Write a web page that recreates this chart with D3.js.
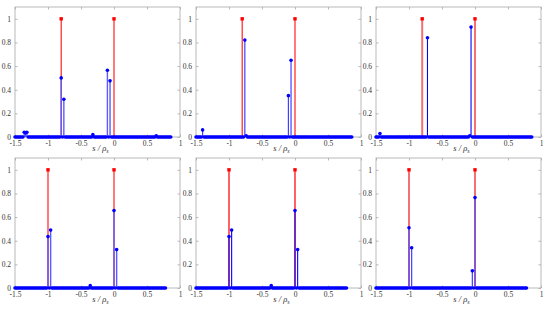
<!DOCTYPE html>
<html><head><meta charset="utf-8">
<script src="https://cdn.jsdelivr.net/npm/d3@7"></script>
<style>body{margin:0;background:#fff}svg{display:block}
.t{font-family:'Liberation Serif','Times New Roman',serif}</style>
</head><body>
<svg id="c" width="550" height="309"></svg>
<script>
// tick labels
const xTicks = [-1.5, -1, -0.5, 0, 0.5, 1];
const yTicks = [0, 0.2, 0.4, 0.6, 0.8, 1];
// sample grid of each row (s / rho_s)
const gridTop = d3.range(0, 119).map(i => +(-1.5 + i * 0.02).toFixed(2));   // -1.5 .. 0.86
const gridBottom = d3.range(0, 115).map(i => +(-1.5 + i * 0.02).toFixed(2)); // -1.5 .. 0.78
// true positions (red, value 1)
const trueTop = [-0.8, 0];
const trueBottom = [-1, 0];
// estimated non-zero values (blue), all other samples are 0
const est1 = [[-1.36, 0.04], [-1.34, 0.035], [-1.32, 0.04], [-0.8, 0.50], [-0.76, 0.32], [-0.32, 0.02], [-0.1, 0.565], [-0.06, 0.475], [0.64, 0.01]];
const est2 = [[-1.4, 0.06], [-0.76, 0.82], [-0.74, 0.01], [-0.1, 0.35], [-0.06, 0.65]];
const est3 = [[-1.44, 0.03], [-0.72, 0.84], [-0.08, 0.01], [-0.06, 0.93]];
const est4 = [[-1, 0.435], [-0.96, 0.49], [-0.36, 0.02], [0, 0.655], [0.04, 0.325]];
const est5 = [[-1, 0.435], [-0.96, 0.49], [-0.36, 0.02], [0, 0.655], [0.04, 0.325]];
const est6 = [[-1, 0.51], [-0.96, 0.34], [-0.04, 0.145], [0, 0.765]];

const panels = [
  {left: 15, top: 7, grid: gridTop, truth: trueTop, est: est1, redW: 1.2, redC: "#ff2020", blueW: 1.4, blueC: "#5a5aff"},
  {left: 196, top: 7, grid: gridTop, truth: trueTop, est: est2, redW: 1.2, redC: "#ff2020", blueW: 1.2, blueC: "#4040ff"},
  {left: 376, top: 7, grid: gridTop, truth: trueTop, est: est3, redW: 2, redC: "#f57070", blueW: 1.1, blueC: "#0000ff"},
  {left: 15, top: 158, grid: gridBottom, truth: trueBottom, est: est4, redW: 1.2, redC: "#ff2020", blueW: 1.4, blueC: "#5a5aff"},
  {left: 196, top: 158, grid: gridBottom, truth: trueBottom, est: est5, redW: 1.4, redC: "#ff2020", blueW: 1.1, blueC: "#0000ff"},
  {left: 376, top: 158, grid: gridBottom, truth: trueBottom, est: est6, redW: 2, redC: "#f57070", blueW: 1.3, blueC: "#4a4aff"}
];
const W = 165, H = 130;
const svg = d3.select("#c");
const axC = "#a8a8a8", txtC = "#333";

panels.forEach(p => {
  const g = svg.append("g").attr("transform", `translate(${p.left},${p.top})`);
  const x = d3.scaleLinear().domain([-1.5, 1]).range([0, W]);
  const y = d3.scaleLinear().domain([0, 1.1]).range([H, 0]);
  g.append("rect").attr("width", W).attr("height", H).attr("fill", "none").attr("stroke", axC).attr("stroke-width", 0.8);
  const xb = d3.axisBottom(x).tickValues(xTicks).tickSize(-2.5).tickPadding(4).tickFormat(d => d);
  const xt = d3.axisTop(x).tickValues(xTicks).tickSize(-2.5).tickFormat("");
  const yl = d3.axisLeft(y).tickValues(yTicks).tickSize(-2.5).tickPadding(4).tickFormat(d => d);
  const yr = d3.axisRight(y).tickValues(yTicks).tickSize(-2.5).tickFormat("");
  [[xb, `translate(0,${H})`], [xt, "translate(0,0)"], [yl, "translate(0,0)"], [yr, `translate(${W},0)`]].forEach(([a, t]) => {
    const ag = g.append("g").attr("transform", t).call(a);
    ag.attr("font-family", null).attr("font-size", null);
    ag.select(".domain").remove();
    ag.selectAll("line").attr("stroke", axC).attr("stroke-width", 0.8);
    ag.selectAll("text").attr("class", "t").attr("fill", txtC).style("font-size", "7.5px");
  });
  const lookup = new Map(p.est.map(d => [d[0].toFixed(2), d[1]]));
  const data = p.grid.map(s => ({s, v: lookup.get(s.toFixed(2)) || 0}));
  g.selectAll(".rs").data(p.truth).join("line")
    .attr("x1", d => x(d)).attr("x2", d => x(d)).attr("y1", y(0)).attr("y2", y(1))
    .attr("stroke", p.redC).attr("stroke-width", p.redW);
  g.selectAll(".bs").data(data.filter(d => d.v > 0)).join("line")
    .attr("x1", d => x(d.s)).attr("x2", d => x(d.s)).attr("y1", y(0)).attr("y2", d => y(d.v))
    .attr("stroke", p.blueC).attr("stroke-width", p.blueW);
  g.selectAll(".bm").data(data).join("circle")
    .attr("cx", d => x(d.s)).attr("cy", d => y(d.v)).attr("r", 1.8).attr("fill", "#0000ff");
  g.selectAll(".rm").data(p.truth).join("rect")
    .attr("x", d => x(d) - 1.7).attr("y", y(1) - 1.7).attr("width", 3.4).attr("height", 3.4).attr("fill", "#ff0000");
  const lab = g.append("text").attr("class", "t").attr("x", W / 2 + 3).attr("y", H + 14).attr("text-anchor", "middle")
    .attr("fill", txtC).style("font-size", "8.5px").style("font-style", "italic");
  lab.append("tspan").text("s / ρ");
  lab.append("tspan").attr("dy", 2).style("font-size", "6px").text("s");
});
</script>
</body></html>
